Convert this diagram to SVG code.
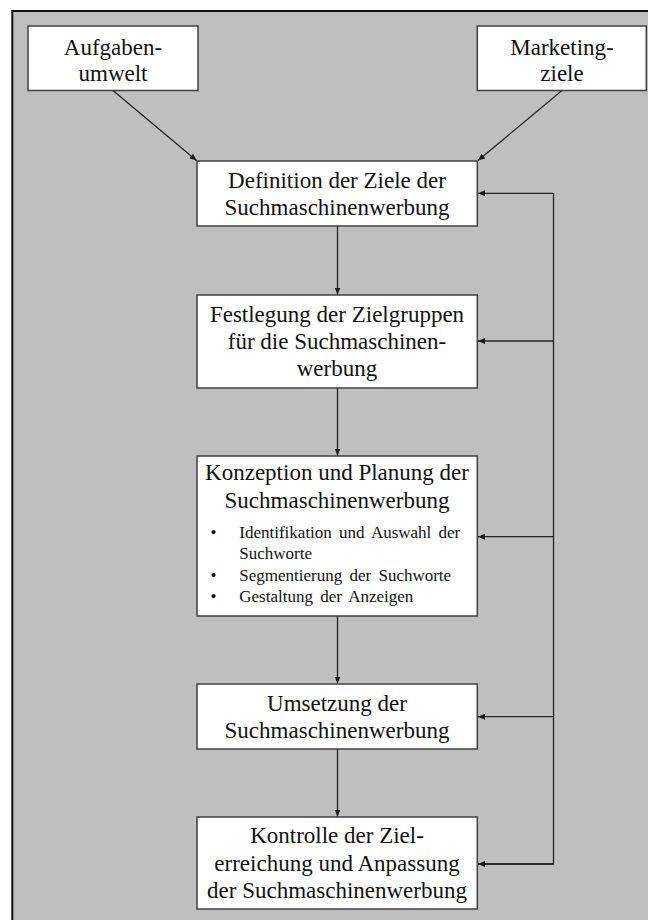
<svg xmlns="http://www.w3.org/2000/svg" width="648" height="920" viewBox="0 0 648 920">
<defs>
<style>
.box{fill:#ffffff;stroke:#404040;stroke-width:1.5}
.t{font-family:"Liberation Serif","Times New Roman",serif;font-size:23px;fill:#111111;text-anchor:middle}
.b{font-family:"Liberation Serif","Times New Roman",serif;font-size:17px;fill:#111111;word-spacing:3px}
.c{fill:none;stroke:#262626;stroke-width:1.3}
</style>
<marker id="ah" markerUnits="userSpaceOnUse" markerWidth="8" markerHeight="7" refX="7" refY="3" orient="auto">
<path d="M0,0 L7,3 L0,6 z" fill="#1a1a1a"/>
</marker>
</defs>
<rect x="0" y="0" width="648" height="920" fill="#ffffff"/>
<rect x="12.3" y="11" width="700" height="1000" fill="#bfbfbf" stroke="#111111" stroke-width="2"/>

<g id="aufgabenumwelt">
<rect class="box" x="28" y="26" width="170" height="64.5"/>
<text class="t" x="113" y="54.5">Aufgaben-</text>
<text class="t" x="113" y="80.5">umwelt</text>
</g>
<g id="marketingziele">
<rect class="box" x="477.3" y="26" width="169" height="64.5"/>
<text class="t" x="562" y="54.5">Marketing-</text>
<text class="t" x="562" y="80.5">ziele</text>
</g>
<g id="definition">
<rect class="box" x="197" y="161" width="280.3" height="65"/>
<text class="t" x="337" y="188.3">Definition der Ziele der</text>
<text class="t" x="337" y="215">Suchmaschinenwerbung</text>
</g>
<g id="festlegung">
<rect class="box" x="197" y="295" width="280.3" height="93"/>
<text class="t" x="337" y="321.7">Festlegung der Zielgruppen</text>
<text class="t" x="337" y="349">für die Suchmaschinen-</text>
<text class="t" x="337" y="376">werbung</text>
</g>
<g id="konzeption">
<rect class="box" x="197" y="456" width="280.3" height="160"/>
<text class="t" x="337" y="480">Konzeption und Planung der</text>
<text class="t" x="337" y="508">Suchmaschinenwerbung</text>
<text class="b" x="210.5" y="538">•</text>
<text class="b" x="239.3" y="538">Identifikation und Auswahl der</text>
<text class="b" x="239.3" y="559">Suchworte</text>
<text class="b" x="210.5" y="580.7">•</text>
<text class="b" x="239.3" y="580.7">Segmentierung der Suchworte</text>
<text class="b" x="210.5" y="602">•</text>
<text class="b" x="239.3" y="602">Gestaltung der Anzeigen</text>
</g>
<g id="umsetzung">
<rect class="box" x="197" y="684" width="280.3" height="65"/>
<text class="t" x="337" y="710.7">Umsetzung der</text>
<text class="t" x="337" y="738.3">Suchmaschinenwerbung</text>
</g>
<g id="kontrolle">
<rect class="box" x="197" y="817" width="280.3" height="92"/>
<text class="t" x="337" y="843.3">Kontrolle der Ziel-</text>
<text class="t" x="337" y="870.7">erreichung und Anpassung</text>
<text class="t" x="337" y="898.3">der Suchmaschinenwerbung</text>
</g>

<g id="connectors">
<line class="c" x1="113" y1="90.5" x2="196.5" y2="160.5" marker-end="url(#ah)"/>
<line class="c" x1="562" y1="90.5" x2="478" y2="160.5" marker-end="url(#ah)"/>
<line class="c" x1="337.5" y1="226" x2="337.5" y2="294.5" marker-end="url(#ah)"/>
<line class="c" x1="337.5" y1="388" x2="337.5" y2="455.5" marker-end="url(#ah)"/>
<line class="c" x1="337.5" y1="616" x2="337.5" y2="683.5" marker-end="url(#ah)"/>
<line class="c" x1="337.5" y1="749" x2="337.5" y2="816.5" marker-end="url(#ah)"/>
<polyline class="c" points="478,864 553.5,864 553.5,193.3"/>
<line class="c" x1="553.5" y1="193.3" x2="478" y2="193.3" marker-end="url(#ah)"/>
<line class="c" x1="553.5" y1="341" x2="478" y2="341" marker-end="url(#ah)"/>
<line class="c" x1="553.5" y1="536.7" x2="478" y2="536.7" marker-end="url(#ah)"/>
<line class="c" x1="553.5" y1="716.7" x2="478" y2="716.7" marker-end="url(#ah)"/>
<line class="c" x1="553.5" y1="864" x2="478" y2="864" marker-end="url(#ah)"/>
</g>
</svg>
